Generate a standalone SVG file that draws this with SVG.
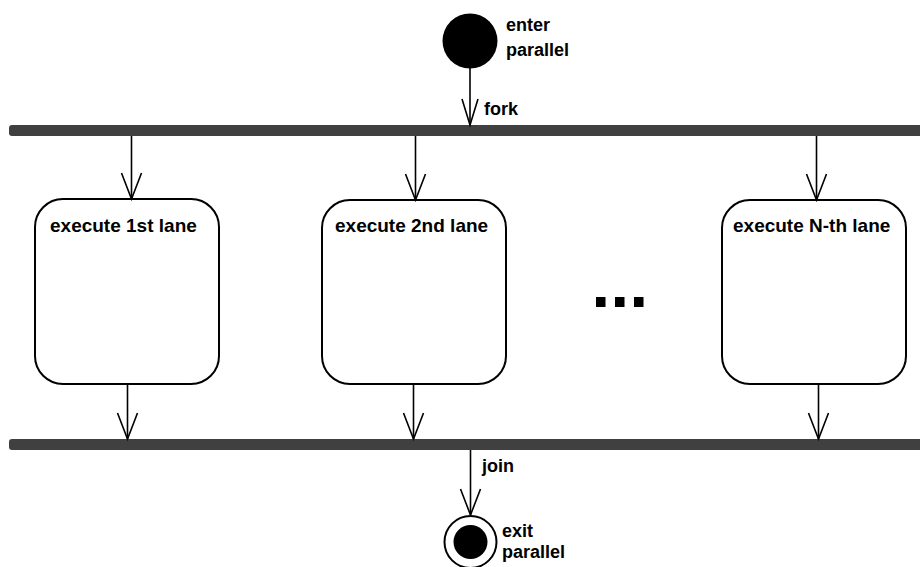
<svg xmlns="http://www.w3.org/2000/svg" width="920" height="567" viewBox="0 0 920 567">
<style>
.bar{fill:#404040}
.box{fill:#ffffff;stroke:#000;stroke-width:2}
.lbl{font-family:"Liberation Sans",Arial,sans-serif;font-weight:bold;font-size:18px;fill:#000}
.ttl{font-family:"Liberation Sans",Arial,sans-serif;font-weight:bold;font-size:19px;fill:#000}
.edge{stroke:#000;stroke-width:1.6;fill:none;marker-end:url(#v)}
.edge2{stroke:#000;stroke-width:1.6;fill:none;marker-end:url(#vn)}
</style>
<defs>
<marker id="v" markerUnits="userSpaceOnUse" orient="auto" markerWidth="40" markerHeight="40" refX="0" refY="0" viewBox="-30 -15 40 30" overflow="visible">
<path d="M-26,-10 L0,0 L-26,10" fill="none" stroke="#000" stroke-width="1.6"/>
</marker>
<marker id="vn" markerUnits="userSpaceOnUse" orient="auto" markerWidth="40" markerHeight="40" refX="0" refY="0" viewBox="-30 -15 40 30" overflow="visible">
<path d="M-26,-8 L0,0 L-26,8" fill="none" stroke="#000" stroke-width="1.6"/>
</marker>
</defs>
<rect width="920" height="567" fill="#ffffff"/>
<g id="start">
<circle cx="470" cy="41" r="27.5" fill="#000"/>
<text class="lbl" x="506" y="31">enter</text>
<text class="lbl" x="506" y="56">parallel</text>
</g>
<g id="fork">
<rect class="bar" x="9" y="125" width="920" height="11" rx="3"/>
</g>
<g id="lane1">
<rect class="box" x="35" y="199" width="184" height="185" rx="28"/>
<text class="ttl" x="50" y="232">execute 1st lane</text>
</g>
<g id="lane2">
<rect class="box" x="322" y="200" width="184" height="184" rx="28"/>
<text class="ttl" x="335" y="232">execute 2nd lane</text>
</g>
<g id="ellipsis">
<rect x="596" y="297" width="9.5" height="10" fill="#000"/>
<rect x="615" y="297" width="9.5" height="10" fill="#000"/>
<rect x="634" y="297" width="9.5" height="10" fill="#000"/>
</g>
<g id="laneN">
<rect class="box" x="722" y="200" width="184" height="184" rx="28"/>
<text class="ttl" x="733" y="232">execute N-th lane</text>
</g>
<g id="join">
<rect class="bar" x="9" y="439" width="920" height="11" rx="3"/>
</g>
<g id="end">
<circle cx="470.5" cy="542" r="26" fill="#fff" stroke="#000" stroke-width="2"/>
<circle cx="470.5" cy="542" r="17" fill="#000"/>
<text class="lbl" x="502" y="537">exit</text>
<text class="lbl" x="502" y="558">parallel</text>
</g>
<g id="connectors">
<line class="edge2" x1="470" y1="68" x2="470" y2="125"/>
<text class="lbl" x="484" y="115">fork</text>
<line class="edge" x1="131.5" y1="136" x2="131.5" y2="199"/>
<line class="edge" x1="415.5" y1="136" x2="415.5" y2="200"/>
<line class="edge" x1="816.5" y1="136" x2="816.5" y2="200"/>
<line class="edge" x1="127.5" y1="384" x2="127.5" y2="439"/>
<line class="edge" x1="413.5" y1="384" x2="413.5" y2="439"/>
<line class="edge" x1="818.5" y1="384" x2="818.5" y2="439"/>
<line class="edge" x1="470.5" y1="450" x2="470.5" y2="515"/>
<text class="lbl" x="482" y="472">join</text>
</g>
</svg>
